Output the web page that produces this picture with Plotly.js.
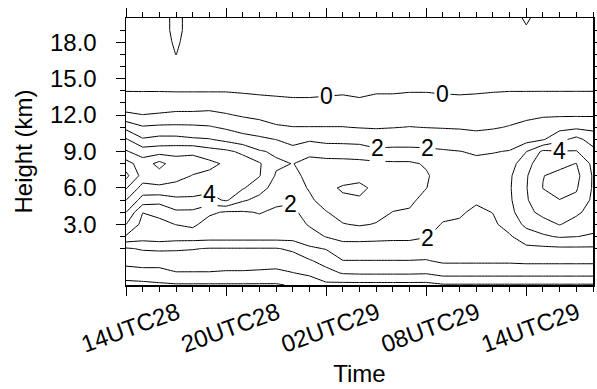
<!DOCTYPE html>
<html><head><meta charset="utf-8">
<script src="https://cdn.plot.ly/plotly-3.0.1.min.js"></script>
<style>html,body{margin:0;padding:0;background:#fff}#chart{width:597px;height:389px}</style>
</head><body><div id="chart"></div>
<script>
// hours after 14 UTC on the 28th
const hours = [0,1,2,3,4,5,6,7,8,9,10,11,12,13,14,15,16,17,18,19,20,21,22,23,24,25,26,27,28];
// heights (km), top to bottom, matching each column below
const heights = [20,19,18,17,16,15,14,13,12,11,10,9,8,7,6,5,4,3,2,1,0,-1,-2];
const timeTickVals = [0,6,12,18,24];
const timeTickText = ['14UTC28','20UTC28','02UTC29','08UTC29','14UTC29'];
const heightTickVals = [3,6,9,12,15,18];
const heightTickText = ['3.0','6.0','9.0','12.0','15.0','18.0'];
const heightMinorTicks = [1,2,4,5,7,8,10,11,13,14,16,17,19];

// one column of values per hour (top to bottom)
const h00 = [-0.88,-0.84,-0.75,-0.62,-0.48,-0.30,-0.02,0.40,1.20,2.70,4.10,5.10,6.40,7.30,6.10,5.02,4.02,3.02,1.90,-0.10,-0.60,-1.50,-2.30];
const h01 = [-0.88,-0.84,-0.75,-0.62,-0.48,-0.30,-0.03,0.49,1.02,2.10,3.10,4.50,5.50,5.60,4.60,3.60,2.02,1.70,1.50,0.10,-0.60,-1.30,-2.30];
const h02 = [-0.87,-0.87,-0.75,-0.62,-0.48,-0.30,-0.03,0.50,1.10,2.20,3.30,4.60,6.30,5.60,4.80,3.40,2.20,1.80,1.60,0.20,-0.80,-1.15,-2.20];
const h03 = [-1.08,-1.08,-1.08,-1.01,-0.80,-0.30,-0.05,0.53,1.20,2.21,3.29,4.67,5.50,5.40,4.60,3.80,2.83,2.02,1.50,0.10,-0.47,-1.05,-2.10];
const h04 = [-0.87,-0.87,-0.75,-0.62,-0.48,-0.30,-0.05,0.53,1.20,2.18,3.13,4.78,5.50,4.95,4.55,3.78,2.81,2.19,1.50,0.05,-0.50,-1.05,-2.10];
const h05 = [-0.88,-0.84,-0.75,-0.62,-0.48,-0.30,-0.05,0.53,1.27,2.09,3.05,4.40,5.25,4.77,4.32,3.62,2.17,1.61,1.45,-0.05,-0.50,-1.05,-2.10];
const h06 = [-0.88,-0.84,-0.75,-0.62,-0.48,-0.30,-0.05,0.50,1.08,1.85,2.73,4.20,4.85,4.70,4.50,4.15,1.90,1.50,1.45,-0.05,-0.55,-1.10,-2.10];
const h07 = [-0.88,-0.84,-0.75,-0.62,-0.48,-0.30,-0.10,0.40,0.90,1.57,2.40,3.80,4.50,4.40,4.10,3.14,1.92,1.70,1.45,-0.05,-0.55,-1.10,-2.10];
const h08 = [-0.88,-0.84,-0.75,-0.62,-0.48,-0.30,-0.15,0.30,0.77,1.38,2.20,3.10,4.10,4.05,3.40,2.70,2.05,1.70,1.45,-0.05,-0.55,-1.15,-2.10];
const h09 = [-0.88,-0.84,-0.75,-0.62,-0.48,-0.30,-0.20,0.25,0.65,1.10,1.98,2.85,3.15,2.90,2.60,2.20,1.85,1.60,1.45,-0.05,-0.60,-1.20,-2.10];
const h10 = [-0.88,-0.84,-0.75,-0.62,-0.48,-0.30,-0.25,0.20,0.60,1.02,1.70,2.30,2.98,2.75,2.50,2.10,1.80,1.55,1.45,0.15,-0.42,-1.02,-1.90];
const h11 = [-0.88,-0.84,-0.75,-0.62,-0.48,-0.30,-0.25,0.20,0.60,1.02,1.85,2.80,3.25,3.25,3.10,2.80,2.45,2.10,1.60,0.85,-0.10,-0.80,-1.60];
const h12 = [-0.88,-0.84,-0.75,-0.62,-0.48,-0.30,-0.20,0.25,0.60,1.02,1.70,2.60,3.30,3.60,3.80,3.50,2.95,2.55,2.05,1.05,0.40,-0.35,-1.20];
const h13 = [-0.88,-0.84,-0.75,-0.62,-0.48,-0.30,-0.15,0.30,0.60,1.02,1.70,2.55,3.30,3.60,4.10,3.85,3.40,2.95,2.27,1.63,0.98,0.09,-1.30];
const h14 = [-0.88,-0.84,-0.75,-0.62,-0.48,-0.30,-0.25,0.20,0.56,0.96,1.65,2.50,3.25,3.60,4.30,3.85,3.40,3.10,2.30,1.60,0.98,0.15,-1.30];
const h15 = [-0.88,-0.84,-0.75,-0.62,-0.48,-0.30,-0.10,0.30,0.60,0.93,1.50,2.20,3.20,3.50,3.70,3.55,3.30,2.95,2.25,1.60,0.98,0.15,-1.30];
const h16 = [-0.88,-0.84,-0.75,-0.62,-0.48,-0.30,-0.10,0.30,0.60,0.97,1.55,2.25,3.15,3.40,3.45,3.30,2.98,2.60,2.20,1.60,0.98,0.15,-1.30];
const h17 = [-0.88,-0.84,-0.75,-0.62,-0.48,-0.30,-0.05,0.35,0.65,1.02,1.55,2.25,3.15,3.30,3.35,3.20,2.90,2.55,2.20,1.60,0.98,0.15,-1.30];
const h18 = [-0.88,-0.84,-0.75,-0.62,-0.48,-0.30,-0.05,0.35,0.65,0.98,1.55,2.20,2.90,3.10,3.02,2.70,2.45,2.30,2.05,1.50,0.95,0.10,-1.30];
const h19 = [-0.88,-0.84,-0.75,-0.62,-0.48,-0.30,-0.10,0.30,0.62,0.95,1.50,2.10,2.40,2.60,2.55,2.40,2.20,1.95,1.75,1.45,1.15,0.40,-1.10];
const h20 = [-0.88,-0.84,-0.75,-0.62,-0.48,-0.30,-0.15,0.30,0.58,0.92,1.45,2.02,2.40,2.55,2.50,2.35,2.10,1.90,1.70,1.40,1.15,0.40,-1.10];
const h21 = [-0.88,-0.84,-0.75,-0.62,-0.48,-0.30,-0.10,0.30,0.55,0.85,1.35,1.90,2.20,2.35,2.30,2.10,1.85,1.70,1.50,1.30,1.15,0.40,-1.10];
const h22 = [-0.88,-0.84,-0.75,-0.62,-0.48,-0.30,-0.05,0.35,0.62,0.92,1.45,1.95,2.30,2.50,2.55,2.40,2.02,1.85,1.60,1.35,1.15,0.40,-1.10];
const h23 = [-0.88,-0.84,-0.75,-0.62,-0.48,-0.30,-0.02,0.40,0.70,1.05,1.50,2.05,2.60,2.85,2.90,2.85,2.70,2.35,1.90,1.60,1.15,0.40,-1.10];
const h24 = [-1.04,-0.97,-0.75,-0.62,-0.48,-0.30,-0.02,0.40,0.80,1.25,1.60,2.98,3.60,3.90,3.95,3.90,3.70,3.25,2.50,1.80,1.20,0.40,-1.10];
const h25 = [-0.88,-0.84,-0.75,-0.62,-0.48,-0.30,-0.02,0.45,0.90,1.45,1.90,4.20,4.70,4.98,5.02,4.70,4.30,3.60,2.86,1.80,1.20,0.40,-1.10];
const h26 = [-0.88,-0.84,-0.75,-0.62,-0.48,-0.30,-0.02,0.45,0.90,1.70,2.70,4.05,4.80,5.20,5.40,4.98,4.50,4.05,3.10,1.84,1.20,0.40,-1.10];
const h27 = [-0.88,-0.84,-0.75,-0.62,-0.48,-0.30,-0.02,0.45,0.90,1.80,3.30,4.05,5.02,5.30,5.10,4.80,4.20,3.60,3.02,1.85,1.20,0.40,-1.10];
const h28 = [-0.88,-0.84,-0.75,-0.62,-0.48,-0.30,-0.02,0.45,0.90,1.75,2.55,3.30,3.75,3.90,3.90,3.80,3.60,3.30,2.90,1.85,1.20,0.40,-1.10];

// contour line labels: value, hour, height (km)
const labelValues = ['0','0','2','2','4','4','2','2'];
const labelHours  = [12.0, 19.0, 15.05, 18.05, 26.0, 5.0, 9.85, 18.05];
const labelHeights= [13.55, 13.75, 9.27, 9.3, 9.05, 5.5, 4.7, 1.9];

const columns = [h00,h01,h02,h03,h04,h05,h06,h07,h08,h09,h10,h11,h12,h13,h14,h15,h16,h17,h18,h19,h20,h21,h22,h23,h24,h25,h26,h27,h28];
// Plotly wants heights ascending; reorder each column bottom-to-top
const yAsc = heights.slice().reverse();
const zCols = columns.map(c => c.slice().reverse());

const FONT = 'Liberation Sans, Arial, Helvetica, sans-serif';
const data = [{
  type: 'contour', x: hours, y: yAsc, z: zCols, transpose: true,
  autocontour: false,
  contours: {start: -2, end: 7, size: 1, coloring: 'none', showlabels: false},
  line: {color: 'black', width: 1, smoothing: 0},
  showscale: false, hoverinfo: 'skip'
}];

const tickAnn = timeTickText.map((t, i) => ({
  x: timeTickVals[i], xref: 'x', y: -0.16, yref: 'paper',
  text: t, textangle: -20, showarrow: false, xanchor: 'center', yanchor: 'middle',
  xshift: 4, font: {family: FONT, size: 24, color: 'black'}
}));
const lineLabelAnn = labelValues.map((t, i) => ({
  x: labelHours[i], xref: 'x', y: labelHeights[i], yref: 'y',
  text: t, showarrow: false, xanchor: 'center', yanchor: 'middle',
  bgcolor: 'white', borderpad: 1,
  font: {family: FONT, size: 23, color: 'black'}
}));

const layout = {
  width: 597, height: 389,
  margin: {l: 126, r: 4, t: 18, b: 104, pad: 0},
  paper_bgcolor: 'white', plot_bgcolor: 'white', showlegend: false,
  font: {family: FONT, color: 'black'},
  xaxis: {
    range: [0, 28], tickmode: 'array', tickvals: timeTickVals, ticktext: timeTickText,
    showticklabels: false, ticks: 'outside', ticklen: 9, tickwidth: 1, tickcolor: 'black',
    showline: true, linecolor: 'black', linewidth: 1.5, mirror: 'ticks',
    showgrid: false, zeroline: false,
    minor: {tickmode: 'linear', tick0: 0, dtick: 1, ticks: 'outside', ticklen: 5, tickwidth: 1, tickcolor: 'black', showgrid: false},
    title: {text: 'Time', font: {family: FONT, size: 24, color: 'black'}, standoff: 70}
  },
  yaxis: {
    range: [-2, 20], tickmode: 'array', tickvals: heightTickVals, ticktext: heightTickText,
    ticks: 'outside', ticklen: 9, tickwidth: 1, tickcolor: 'black',
    tickfont: {family: FONT, size: 24, color: 'black'}, ticklabelstandoff: 14,
    showline: true, linecolor: 'black', linewidth: 1.5, mirror: 'ticks',
    showgrid: false, zeroline: false,
    minor: {tickmode: 'array', tickvals: heightMinorTicks, ticks: 'outside', ticklen: 5, tickwidth: 1, tickcolor: 'black', showgrid: false},
    title: {text: 'Height (km)', font: {family: FONT, size: 24, color: 'black'}, standoff: 10}
  },
  annotations: tickAnn.concat(lineLabelAnn)
};
Plotly.newPlot('chart', data, layout, {staticPlot: true, displayModeBar: false});
</script>
</body></html>
